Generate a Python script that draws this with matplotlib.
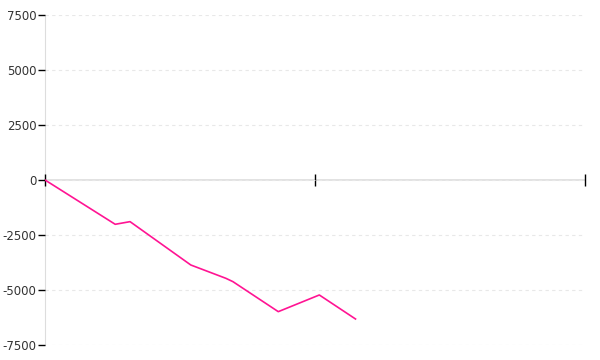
import matplotlib.pyplot as plt
import numpy as np

plt.rcParams['axes.unicode_minus'] = False

# breakpoints of the cumulative series
x_vals = [0, 2.6, 3.15, 5.4, 6.7, 6.96, 8.64, 10.16, 11.5]
y_vals = [0, -2014, -1894, -3864, -4470, -4621, -5985, -5227, -6318]
x_ticks = [0, 10, 20]
y_ticks = [-7500, -5000, -2500, 0, 2500, 5000, 7500]

fig = plt.figure(figsize=(6, 3.6), dpi=100)
ax = fig.add_axes([0.075, 0.0417, 0.9, 0.9167])

ax.plot(x_vals, y_vals, color='#ff1493', lw=1.2, zorder=3)

ax.set_xlim(0, 20)
ax.set_ylim(-7500, 7500)
ax.set_xticks(x_ticks)
ax.set_xticklabels([])
ax.set_yticks(y_ticks)

# dashed horizontal grid
ax.yaxis.grid(True, color='#e8e8e8', linestyle=(0, (3, 3)), lw=0.8)
ax.set_axisbelow(True)

for s in ['top', 'right']:
    ax.spines[s].set_visible(False)
ax.spines['left'].set_color('#dddddd')
ax.spines['left'].set_zorder(0.5)
ax.spines['bottom'].set_position(('data', 0))
ax.spines['bottom'].set_color('#dddddd')
ax.spines['bottom'].set_linewidth(1.2)
ax.spines['bottom'].set_zorder(0.5)

ax.tick_params(axis='x', direction='inout', length=8, width=1, color='black')
ax.tick_params(axis='y', direction='out', length=5, width=1, color='black',
               labelsize=8.5, labelcolor='#333333', pad=1)

fig.savefig('out.png', dpi=100)
